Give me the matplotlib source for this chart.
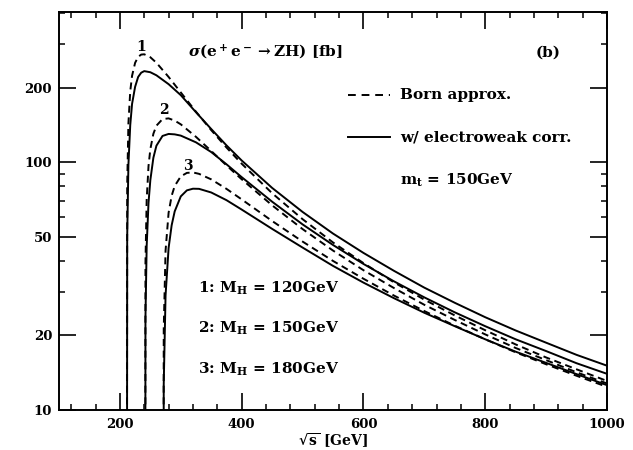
import matplotlib
matplotlib.use("Agg")
import matplotlib.pyplot as plt
from matplotlib.ticker import FixedLocator, FixedFormatter, NullFormatter

plt.rcParams['font.family'] = ['DejaVu Serif']
plt.rcParams['font.weight'] = 'bold'
plt.rcParams['mathtext.fontset'] = 'dejavuserif'
plt.rcParams['xtick.direction'] = 'in'
plt.rcParams['ytick.direction'] = 'in'
plt.rcParams['xtick.top'] = True
plt.rcParams['ytick.right'] = True
plt.rcParams['xtick.major.size'] = 12
plt.rcParams['ytick.major.size'] = 12
plt.rcParams['xtick.minor.size'] = 4.5
plt.rcParams['ytick.minor.size'] = 4.5
plt.rcParams['xtick.major.width'] = 1.2
plt.rcParams['ytick.major.width'] = 1.2
plt.rcParams['xtick.minor.width'] = 1.1
plt.rcParams['ytick.minor.width'] = 1.1

# ---- data ----
x_mh120 = [211.2, 212, 214, 217, 220, 225, 230, 235, 240, 250, 260, 280, 300, 325,
           350, 375, 400, 450, 500, 550, 600, 650, 700, 750, 800, 850, 900, 950, 1000]
born_mh120 = [0.1, 80.7, 143.8, 193.7, 223.8, 252.5, 266.8, 272.6, 273.3, 265.9, 252.6,
              221.4, 191.7, 160.2, 135.0, 114.9, 98.8, 75.1, 59.0, 47.5, 39.2, 32.8,
              27.9, 24.1, 21.0, 18.4, 16.3, 14.6, 13.1]
corr_mh120 = [0.1, 50.0, 97.8, 141.4, 172.3, 202.0, 221.4, 230.3, 233.7, 231.3, 224.8,
              207.0, 186.9, 159.4, 136.4, 117.2, 101.8, 78.9, 63.1, 51.6, 43.1, 36.5,
              31.2, 27.1, 23.7, 20.95, 18.7, 16.7, 15.1]

x_mh150 = [241.2, 242, 244, 247, 250, 255, 260, 270, 280, 290, 300, 325, 350, 375,
           400, 450, 500, 550, 600, 650, 700, 750, 800, 850, 900, 950, 1000]
born_mh150 = [0.1, 39.3, 70.7, 96.6, 113.1, 130.5, 140.7, 149.6, 150.6, 147.5, 142.5,
              126.8, 111.2, 97.3, 85.5, 67.1, 53.8, 44.05, 36.7, 31.1, 26.6, 23.1,
              20.2, 17.8, 15.9, 14.2, 12.8]
corr_mh150 = [0.1, 23.6, 46.0, 68.6, 84.8, 104.4, 116.8, 127.9, 130.3, 129.8, 128.3,
              120.5, 110.1, 98.3, 87.2, 69.4, 56.2, 46.4, 38.9, 33.1, 28.5, 24.8,
              21.8, 19.3, 17.3, 15.45, 14.0]

x_mh180 = [271.2, 272, 275, 280, 285, 290, 300, 310, 320, 330, 350, 375, 400, 450,
           500, 550, 600, 650, 700, 750, 800, 850, 900, 950, 1000]
born_mh180 = [0.1, 21.2, 44.0, 62.6, 73.3, 80.3, 87.8, 90.7, 91.1, 89.9, 85.4, 78.2,
              70.9, 58.0, 47.9, 40.0, 33.9, 29.0, 25.1, 21.9, 19.3, 17.1, 15.3, 13.75, 12.4]
corr_mh180 = [0.1, 12.7, 29.0, 45.1, 55.7, 63.4, 72.9, 77.1, 78.3, 78.2, 75.6, 70.4,
              64.5, 53.9, 45.3, 38.2, 32.7, 28.3, 24.7, 21.8, 19.3, 17.2, 15.5, 13.96, 12.6]

curve_labels = ['1', '2', '3']
mh_labels = ['1: $\\mathbf{M_H}$ = 120GeV', '2: $\\mathbf{M_H}$ = 150GeV',
             '3: $\\mathbf{M_H}$ = 180GeV']
y_major = [10, 20, 50, 100, 200]
y_minor = [30, 40, 60, 70, 80, 90, 300, 400]
x_major = [200, 400, 600, 800, 1000]
x_minor = [120, 160, 240, 280, 320, 360, 440, 480, 520, 560, 640, 680, 720, 760,
           840, 880, 920, 960]

# ---- figure ----
W, H = 633, 450
fig = plt.figure(figsize=(W / 100, H / 100), dpi=100)
ax = fig.add_axes([59 / W, 1 - 410 / H, (607 - 59) / W, (410 - 12) / H])

lw = 1.4
dash = (3.6, 2.4)
for xs, b, c in [(x_mh120, born_mh120, corr_mh120),
                 (x_mh150, born_mh150, corr_mh150),
                 (x_mh180, born_mh180, corr_mh180)]:
    ax.plot(xs, b, color='black', lw=lw, dashes=dash)
    ax.plot(xs, c, color='black', lw=lw)

ax.set_yscale('log')
ax.set_xlim(100, 1000)
ax.set_ylim(10, 405)

ax.yaxis.set_major_locator(FixedLocator(y_major))
ax.yaxis.set_major_formatter(FixedFormatter([str(v) for v in y_major]))
ax.yaxis.set_minor_locator(FixedLocator(y_minor))
ax.yaxis.set_minor_formatter(NullFormatter())
ax.xaxis.set_major_locator(FixedLocator(x_major))
ax.xaxis.set_major_formatter(FixedFormatter([str(v) for v in x_major]))
ax.xaxis.set_minor_locator(FixedLocator(x_minor))
ax.xaxis.set_minor_formatter(NullFormatter())

ax.tick_params(which='both', direction='in', top=True, right=True,
               bottom=True, left=True, color='black', labelsize=9.5)
ax.tick_params(axis='x', which='major', pad=6)
ax.tick_params(axis='y', which='major', pad=5)
for s in ax.spines.values():
    s.set_linewidth(1.4)

fs = 12
def ftext(px, py, s, **kw):
    kw.setdefault('fontsize', fs)
    kw.setdefault('va', 'center')
    kw.setdefault('fontweight', 'bold')
    fig.text(px / W, 1 - py / H, s, **kw)

ftext(188, 52, '$\\sigma(\\mathbf{e^+e^-\\rightarrow ZH})$ [fb]', ha='left', fontsize=11)
ftext(548, 53, '(b)', ha='center', fontsize=11)
ax.plot([348 / W, 390 / W], [1 - 95 / H] * 2, transform=fig.transFigure,
        color='black', lw=lw, dashes=(4, 3), clip_on=False)
ftext(400, 95, 'Born approx.', ha='left', fontsize=11)
ax.plot([348 / W, 390 / W], [1 - 137 / H] * 2, transform=fig.transFigure,
        color='black', lw=lw, clip_on=False)
ftext(400, 137, 'w/ electroweak corr.', ha='left', fontsize=11)
ftext(400, 180, '$\\mathbf{m_t}$ = 150GeV', ha='left', fontsize=11)

for lab, (px, py) in zip(curve_labels, [(141, 47), (164, 110), (188, 166)]):
    ftext(px, py, lab, ha='center', fontsize=10)
for lab, py in zip(mh_labels, [288, 328, 369]):
    ftext(198, py, lab, ha='left', fontsize=11)

ftext(333, 441, '$\\sqrt{\\mathbf{s}}$ [GeV]', ha='center', fontsize=10)

fig.savefig('out.png', dpi=100)
